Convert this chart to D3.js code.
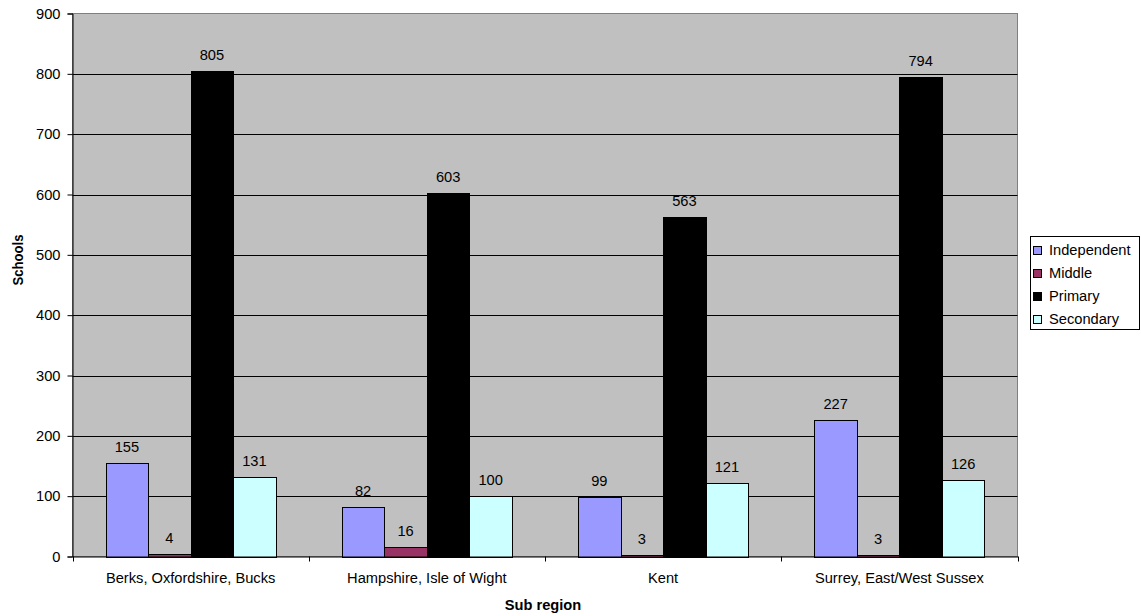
<!DOCTYPE html>
<html>
<head>
<meta charset="utf-8">
<script src="https://cdn.jsdelivr.net/npm/d3@7"></script>
<style>
  html, body { margin: 0; padding: 0; background: #fff; }
  svg { display: block; font-family: "Liberation Sans", Arial, sans-serif; }
</style>
</head>
<body>
<svg id="chart" width="1141" height="616"></svg>
<script>
const categories = ["Berks, Oxfordshire, Bucks", "Hampshire, Isle of Wight", "Kent", "Surrey, East/West Sussex"];
const seriesNames = ["Independent", "Middle", "Primary", "Secondary"];
const independent = [155, 82, 99, 227];
const middle = [4, 16, 3, 3];
const primary = [805, 603, 563, 794];
const secondary = [131, 100, 121, 126];
const yTicks = [0, 100, 200, 300, 400, 500, 600, 700, 800, 900];
const colors = ["#9999FF", "#993366", "#000000", "#CCFFFF"];

const seriesValues = [independent, middle, primary, secondary];
const FS = 14.67;

const svg = d3.select("#chart");
const pLeft = 72.5, pRight = 1017.5, pTop = 13.5, pBottom = 556.5;

const x = d3.scaleBand().domain(categories).range([pLeft, pRight]).paddingInner(0).paddingOuter(0);
const inner = d3.scaleBand().domain(seriesNames).range([0, x.bandwidth()]).paddingOuter(0.78).paddingInner(0);
const y = d3.scaleLinear().domain([0, 900]).range([pBottom, pTop]);

// plot background
svg.append("rect").attr("x", pLeft).attr("y", pTop).attr("width", pRight - pLeft).attr("height", pBottom - pTop)
  .attr("fill", "#C0C0C0").attr("stroke", "#808080").attr("stroke-width", 1);

// gridlines
svg.append("g").selectAll("line").data(yTicks.filter(t => t > 0 && t < 900)).join("line")
  .attr("x1", pLeft).attr("x2", pRight)
  .attr("y1", d => Math.round(y(d)) + 0.5).attr("y2", d => Math.round(y(d)) + 0.5)
  .attr("stroke", "#000").attr("stroke-width", 1);

// bars
const data = [];
categories.forEach((c, i) => seriesNames.forEach((s, j) => data.push({c, s, v: seriesValues[j][i], color: colors[j]})));

svg.append("g").selectAll("rect").data(data).join("rect")
  .attr("x", d => Math.round(x(d.c) + inner(d.s)) + 0.5)
  .attr("width", d => Math.round(x(d.c) + inner(d.s) + inner.bandwidth()) - Math.round(x(d.c) + inner(d.s)))
  .attr("y", d => Math.round(y(d.v)) + 0.5)
  .attr("height", d => Math.round(y(0)) - Math.round(y(d.v)))
  .attr("fill", d => d.color)
  .attr("stroke", "#000").attr("stroke-width", 1);

// value labels
svg.append("g").selectAll("text").data(data).join("text")
  .attr("x", d => x(d.c) + inner(d.s) + inner.bandwidth() / 2)
  .attr("y", d => y(d.v) - 11)
  .attr("text-anchor", "middle")
  .attr("font-size", FS).attr("fill", "#000")
  .text(d => d.v);

// y axis
const yAxis = d3.axisLeft(y).tickValues(yTicks).tickSize(5).tickPadding(7).tickFormat(d3.format("d"));
const gy = svg.append("g").attr("transform", `translate(${pLeft},0)`).call(yAxis);
gy.select(".domain").attr("stroke", "#000");
gy.selectAll(".tick line").attr("stroke", "#000");
gy.selectAll("text").attr("font-size", FS).attr("font-family", "Liberation Sans, Arial, sans-serif").attr("fill", "#000");

// x axis
const xAxis = d3.axisBottom(x).tickSize(0).tickPadding(16.5);
const gx = svg.append("g").attr("transform", `translate(0,${pBottom})`).call(xAxis);
gx.select(".domain").attr("stroke", "#000");
gx.selectAll("text").attr("font-size", FS).attr("font-family", "Liberation Sans, Arial, sans-serif").attr("fill", "#000");
// boundary ticks
const bounds = categories.map(c => x(c)).concat([pRight]);
svg.append("g").selectAll("line").data(bounds).join("line")
  .attr("x1", d => Math.round(d) + 0.5).attr("x2", d => Math.round(d) + 0.5)
  .attr("y1", pBottom).attr("y2", pBottom + 5)
  .attr("stroke", "#000");

// axis titles
svg.append("text").attr("x", 543).attr("y", 610)
  .attr("text-anchor", "middle").attr("font-size", FS).attr("font-weight", "bold").text("Sub region");
svg.append("text").attr("transform", "translate(22.5,260) rotate(-90)")
  .attr("text-anchor", "middle").attr("font-size", FS).attr("font-weight", "bold")
  .attr("textLength", 51).attr("lengthAdjust", "spacingAndGlyphs").text("Schools");

// legend
const lg = svg.append("g");
lg.append("rect").attr("x", 1030.5).attr("y", 236.5).attr("width", 109).attr("height", 93)
  .attr("fill", "#fff").attr("stroke", "#000");
seriesNames.forEach((s, j) => {
  const by = 255 + j * 23;
  lg.append("rect").attr("x", 1033.5).attr("y", by - 8.5).attr("width", 8).attr("height", 8)
    .attr("fill", colors[j]).attr("stroke", "#000");
  lg.append("text").attr("x", 1049).attr("y", by).attr("font-size", FS).text(s);
});
</script>
</body>
</html>
